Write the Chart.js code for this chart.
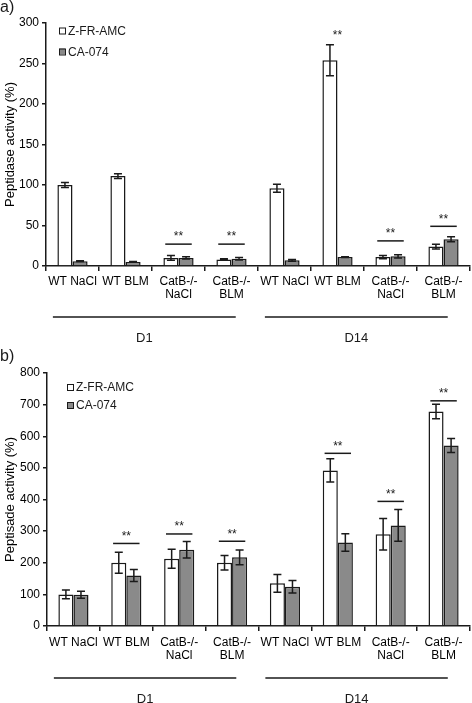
<!DOCTYPE html>
<html lang="en">
<head>
  <meta charset="UTF-8">
  <title>Peptidase activity</title>
  <script src="https://cdn.jsdelivr.net/npm/chart.js"></script>
  <style>
    body { margin: 0; background: #fff; }
    canvas { display: block; }
  </style>
</head>
<body>
<canvas id="chartA" width="472" height="345"></canvas>
<canvas id="chartB" width="472" height="358"></canvas>

<script>
  // categories and groups (same for both panels)
  const categories = [['WT NaCl'], ['WT BLM'], ['CatB-/-', 'NaCl'], ['CatB-/-', 'BLM'],
                      ['WT NaCl'], ['WT BLM'], ['CatB-/-', 'NaCl'], ['CatB-/-', 'BLM']];
  const groupNames = ['D1', 'D14'];
  const groupStart = [0, 4];
  const groupEnd = [3, 7];
  const seriesNames = ['Z-FR-AMC', 'CA-074'];

  // panel a
  const aZfr = [100, 111, 10, 8, 96, 254, 11, 24];
  const aZfrErr = [3, 3, 3, 1, 5, 19, 2, 3];
  const aCa = [6, 5, 10, 9, 7, 11, 12, 33];
  const aCaErr = [0.5, 0.5, 1.5, 1.5, 1, 0.5, 2, 3];
  const aSig = [null, null, 27, 27, null, 276, 31, 49];
  const aSigLine = [false, false, true, true, false, false, true, true];
  const aTicks = [0, 50, 100, 150, 200, 250, 300];

  // panel b
  const bZfr = [100, 200, 213, 200, 135, 492, 290, 678];
  const bZfrErr = [14, 33, 30, 23, 28, 37, 50, 23];
  const bCa = [99, 160, 241, 217, 124, 264, 318, 571];
  const bCaErr = [11, 19, 26, 23, 20, 28, 50, 22];
  const bSig = [null, 261, 291, 268, null, 546, 394, 712];
  const bSigLine = [false, true, true, true, false, true, true, true];
  const bTicks = [0, 100, 200, 300, 400, 500, 600, 700, 800];

  const FONT = "'Liberation Sans', Arial, sans-serif";
  const INK = '#1a1a1a';
  const GREY = '#8a8a8a';

  // 誤差線、顯著性、分組線、圖例
  const extras = {
    id: 'extras',
    afterDatasetsDraw(chart, args, opts) {
      const ctx = chart.ctx;
      const x = chart.scales.x, y = chart.scales.y;
      const w = x.getPixelForValue(1) - x.getPixelForValue(0);
      ctx.save();
      ctx.strokeStyle = INK;
      ctx.fillStyle = INK;
      ctx.lineWidth = 1.5;

      // error bars
      opts.errors.forEach((errs, di) => {
        const meta = chart.getDatasetMeta(di);
        const vals = chart.data.datasets[di].data;
        meta.data.forEach((bar, i) => {
          const top = y.getPixelForValue(vals[i] + errs[i]);
          const bot = y.getPixelForValue(Math.max(vals[i] - errs[i], 0));
          ctx.beginPath();
          ctx.moveTo(bar.x, top); ctx.lineTo(bar.x, bot);
          ctx.moveTo(bar.x - 4, top); ctx.lineTo(bar.x + 4, top);
          ctx.moveTo(bar.x - 4, bot); ctx.lineTo(bar.x + 4, bot);
          ctx.stroke();
        });
      });

      // significance
      ctx.font = '12px ' + FONT;
      ctx.textAlign = 'center';
      ctx.textBaseline = 'middle';
      opts.sig.forEach((v, i) => {
        if (v == null) return;
        const cx = x.getPixelForValue(i);
        const py = y.getPixelForValue(v);
        if (opts.sigLine[i]) {
          ctx.beginPath();
          ctx.moveTo(cx - 0.25 * w, py); ctx.lineTo(cx + 0.25 * w, py);
          ctx.stroke();
        }
        ctx.fillText('**', cx, py - 7);
      });

      // group lines under the axis
      const gy = y.bottom + opts.groupOffset;
      ctx.font = '13px ' + FONT;
      groupNames.forEach((name, g) => {
        const x0 = x.getPixelForValue(groupStart[g]) - 0.37 * w;
        const x1 = x.getPixelForValue(groupEnd[g]) + 0.08 * w;
        ctx.beginPath();
        ctx.moveTo(x0, gy); ctx.lineTo(x1, gy);
        ctx.stroke();
        ctx.fillText(name, (x0 + x1) / 2, gy + 21);
      });

      // legend
      ctx.font = '12px ' + FONT;
      ctx.textAlign = 'left';
      ctx.lineWidth = 1;
      seriesNames.forEach((name, i) => {
        const ly = opts.legend.y + i * opts.legend.gap;
        ctx.fillStyle = chart.data.datasets[i].backgroundColor;
        ctx.fillRect(opts.legend.x, ly - 3, 6, 6);
        ctx.strokeStyle = INK;
        ctx.strokeRect(opts.legend.x + 0.5, ly - 2.5, 6, 6);
        ctx.fillStyle = INK;
        ctx.fillText(name, opts.legend.x + 9, ly + 1);
      });

      // panel letter
      ctx.font = '16px ' + FONT;
      ctx.fillText(opts.letter, 0, opts.letterY);
      ctx.restore();
    }
  };

  function makeChart(id, zfr, ca, zfrErr, caErr, sig, sigLine, ticks, title, cfg) {
    new Chart(document.getElementById(id).getContext('2d'), {
      type: 'bar',
      data: {
        labels: categories,
        datasets: [
          { label: seriesNames[0], data: zfr, backgroundColor: '#ffffff', borderColor: INK, borderWidth: 1.5 },
          { label: seriesNames[1], data: ca, backgroundColor: GREY, borderColor: INK, borderWidth: 1.5 }
        ]
      },
      options: {
        responsive: false,
        animation: false,
        datasets: { bar: { categoryPercentage: 0.57, barPercentage: 1.0 } },
        layout: { padding: { top: cfg.top, right: 2, left: 0, bottom: 0 } },
        plugins: {
          legend: { display: false },
          tooltip: { enabled: false },
          extras: {
            errors: [zfrErr, caErr], sig: sig, sigLine: sigLine,
            groupOffset: cfg.groupOffset, legend: cfg.legend,
            letter: cfg.letter, letterY: cfg.letterY
          }
        },
        scales: {
          x: {
            afterFit: s => { s.height = cfg.xHeight; },
            grid: { offset: true, drawOnChartArea: false, tickLength: 5, color: INK, lineWidth: 1.5 },
            border: { color: INK, width: 1.5 },
            ticks: { color: '#000', padding: cfg.xPad, maxRotation: 0, autoSkip: false,
                     font: { family: FONT, size: 12, lineHeight: 1.1 } }
          },
          y: {
            min: ticks[0], max: ticks[ticks.length - 1],
            afterFit: s => { s.width = cfg.yWidth; },
            afterBuildTicks: s => { s.ticks = ticks.map(v => ({ value: v })); },
            grid: { drawOnChartArea: false, tickLength: 4, color: INK, lineWidth: 1.5 },
            border: { color: INK, width: 1.5 },
            ticks: { color: '#000', padding: 3, font: { family: FONT, size: 12 } },
            title: { display: true, text: title, color: '#000', padding: { top: 3, bottom: 0 },
                     font: { family: FONT, size: 13 } }
          }
        }
      },
      plugins: [extras]
    });
  }

  makeChart('chartA', aZfr, aCa, aZfrErr, aCaErr, aSig, aSigLine, aTicks, 'Peptidase activity (%)', {
    top: 23, xHeight: 79, yWidth: 46, xPad: 4, groupOffset: 51,
    legend: { x: 59, y: 30.5, gap: 21 }, letter: 'a)', letterY: 8
  });
  makeChart('chartB', bZfr, bCa, bZfrErr, bCaErr, bSig, bSigLine, bTicks, 'Peptisade activity (%)', {
    top: 28, xHeight: 77, yWidth: 47, xPad: 5, groupOffset: 52,
    legend: { x: 67, y: 42, gap: 18 }, letter: 'b)', letterY: 12
  });
</script>
</body>
</html>
